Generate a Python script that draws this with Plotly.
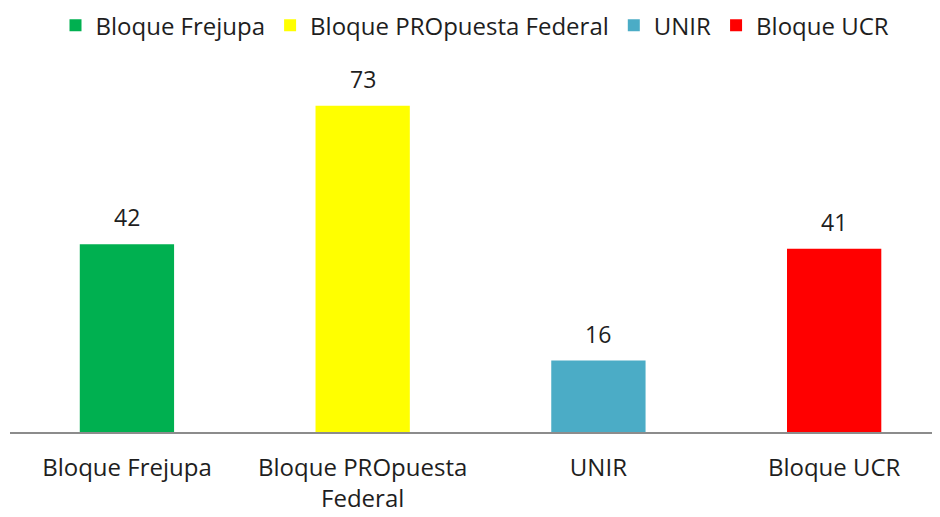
import plotly.graph_objects as go

categories = ["Bloque Frejupa", "Bloque PROpuesta Federal", "UNIR", "Bloque UCR"]
tick_labels = ["Bloque Frejupa", "Bloque PROpuesta<br>Federal", "UNIR", "Bloque UCR"]
values = [42, 73, 16, 41]
colors = ["#00B050", "#FFFF00", "#4BACC6", "#FF0000"]

FONT = "Open Sans, Lato, sans-serif"
TXT = "#1e1e1e"
fig = go.Figure()
for i, (name, v, c) in enumerate(zip(categories, values, colors)):
    fig.add_trace(go.Bar(x=[i], y=[v], name=name, marker=dict(color=c, line=dict(width=0)),
                         width=0.4, showlegend=True))
    fig.add_annotation(x=i, y=v, text=str(v), showarrow=False, yshift=27,
                       font=dict(family=FONT, size=23, color=TXT))

fig.update_layout(
    width=940, height=517,
    margin=dict(l=2, r=8, t=42, b=93),
    plot_bgcolor="white", paper_bgcolor="white",
    barmode="overlay",
    font=dict(family=FONT, size=24, color=TXT),
    legend=dict(orientation="h", x=0.5, xanchor="center", y=0.966, yanchor="middle",
                yref="container", font=dict(size=24, color=TXT), itemwidth=30,
                tracegroupgap=0, traceorder="normal"),
    xaxis=dict(range=[-0.496, 3.449], tickvals=list(range(len(categories))), ticktext=tick_labels,
               showgrid=False, zeroline=False, showline=True, linecolor="#8c8c8c", linewidth=2,
               ticks="", ticklabelstandoff=13, tickfont=dict(size=24, color=TXT), fixedrange=True),
    yaxis=dict(range=[0, 85.5], visible=False, showgrid=False, zeroline=False),
)
fig.write_html("out.html")
